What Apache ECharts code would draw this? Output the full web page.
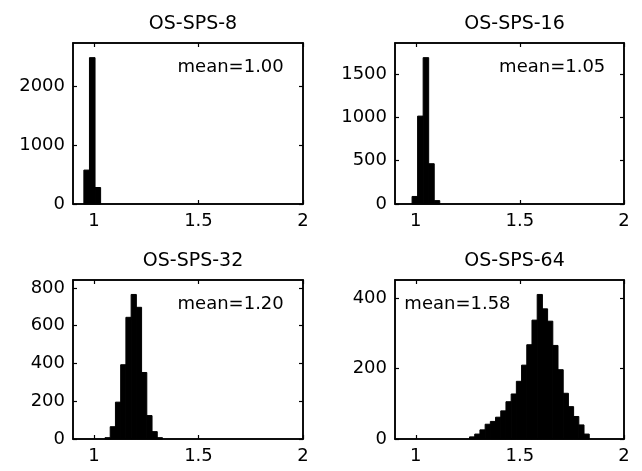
<!DOCTYPE html>
<html>
<head>
<meta charset="utf-8">
<script src="https://cdn.jsdelivr.net/npm/echarts@6/dist/echarts.min.js"></script>
<style>
html,body{margin:0;padding:0;background:#fff;}
#chart{width:642px;height:471px;}
</style>
</head>
<body>
<div id="chart"></div>
<script>
// ---- data ----
const titles = ['OS-SPS-8', 'OS-SPS-16', 'OS-SPS-32', 'OS-SPS-64'];
const meanLabels = ['mean=1.00', 'mean=1.05', 'mean=1.20', 'mean=1.58'];
const meanLabelX = [1.4, 1.4, 1.4, 0.945];
const xTicks = [1, 1.5, 2];
const yTicks8 = [0, 1000, 2000];
const yTicks16 = [0, 500, 1000, 1500];
const yTicks32 = [0, 200, 400, 600, 800];
const yTicks64 = [0, 200, 400];
const binStart = [0.952, 0.982, 1.053, 1.258];
const binWidth = [0.0267, 0.0266, 0.025, 0.025];
const counts8 = [576, 2486, 280];
const counts16 = [87, 1015, 1690, 465, 39];
const counts32 = [7, 65, 195, 393, 644, 765, 697, 352, 124, 39, 7];
const counts64 = [6, 14, 26, 42, 50, 62, 80, 106, 128, 164, 210, 268, 338, 411, 370, 335, 266, 197, 130, 92, 64, 40, 14];

const allCounts = [counts8, counts16, counts32, counts64];
const allYTicks = [yTicks8, yTicks16, yTicks32, yTicks64];
const xMin = 0.9, xMax = 2;

// ---- layout ----
const gridRects = [
  {left: 73, top: 43, width: 230, height: 161},
  {left: 395, top: 43, width: 229, height: 161},
  {left: 73, top: 280, width: 230, height: 159},
  {left: 395, top: 280, width: 229, height: 159}
];
const FONT = 'DejaVu Sans';
const black = '#000';

const grid = [], xAxis = [], yAxis = [], series = [], title = [];
const plain = v => String(v);

for (let i = 0; i < 4; i++) {
  const g = gridRects[i];
  grid.push(Object.assign({show: true, borderColor: black, borderWidth: 1.5, backgroundColor: 'transparent'}, g));
  const ymax = Math.max.apply(null, allCounts[i]) * 1.1;
  const tickStyle = {color: black, width: 1.2};
  const lblStyle = {color: black, fontSize: 18, fontFamily: FONT, margin: 8, formatter: plain};
  xAxis.push({
    gridIndex: i, type: 'value', min: xMin, max: xMax, position: 'bottom',
    axisLine: {show: true, onZero: false, lineStyle: {color: black, width: 1.5}},
    axisTick: {show: true, inside: true, length: 4, customValues: xTicks, lineStyle: tickStyle},
    axisLabel: Object.assign({customValues: xTicks}, lblStyle),
    splitLine: {show: false}
  });
  xAxis.push({
    gridIndex: i, type: 'value', min: xMin, max: xMax, position: 'top',
    axisLine: {show: true, onZero: false, lineStyle: {color: black, width: 1.5}},
    axisTick: {show: true, inside: true, length: 4, customValues: xTicks, lineStyle: tickStyle},
    axisLabel: {show: false},
    splitLine: {show: false}
  });
  yAxis.push({
    gridIndex: i, type: 'value', min: 0, max: ymax, position: 'left',
    axisLine: {show: true, onZero: false, lineStyle: {color: black, width: 1.5}},
    axisTick: {show: true, inside: true, length: 4, customValues: allYTicks[i], lineStyle: tickStyle},
    axisLabel: Object.assign({customValues: allYTicks[i]}, lblStyle),
    splitLine: {show: false}
  });
  yAxis.push({
    gridIndex: i, type: 'value', min: 0, max: ymax, position: 'right',
    axisLine: {show: true, onZero: false, lineStyle: {color: black, width: 1.5}},
    axisTick: {show: true, inside: true, length: 4, customValues: allYTicks[i], lineStyle: tickStyle},
    axisLabel: {show: false},
    splitLine: {show: false}
  });
  const s = binStart[i], w = binWidth[i];
  series.push({
    type: 'custom',
    xAxisIndex: 2 * i, yAxisIndex: 2 * i,
    data: allCounts[i].map((c, k) => [s + k * w, c, s + (k + 1) * w]),
    encode: {x: [0, 2], y: 1},
    renderItem: function (params, api) {
      const p0 = api.coord([api.value(0), api.value(1)]);
      const p1 = api.coord([api.value(2), 0]);
      return {
        type: 'rect',
        shape: {x: p0[0], y: p0[1], width: p1[0] - p0[0], height: p1[1] - p0[1]},
        style: {fill: black, stroke: black, lineWidth: 1}
      };
    },
    silent: true
  });
  const label = meanLabels[i];
  series.push({
    type: 'custom',
    xAxisIndex: 2 * i, yAxisIndex: 2 * i,
    data: [[meanLabelX[i], ymax * 0.85]],
    renderItem: function (params, api) {
      const p = api.coord([api.value(0), api.value(1)]);
      return {
        type: 'text',
        x: p[0], y: p[1],
        style: {text: label, fill: black, font: '18px "DejaVu Sans"', textAlign: 'left', textVerticalAlign: 'middle'}
      };
    },
    silent: true
  });
  title.push({
    text: titles[i],
    left: g.left + g.width / 2,
    top: g.top - 33,
    textAlign: 'center',
    textStyle: {color: black, fontSize: 19, fontWeight: 'normal', fontFamily: FONT}
  });
}

const chart = echarts.init(document.getElementById('chart'));
chart.setOption({
  backgroundColor: '#fff',
  animation: false,
  title: title,
  grid: grid,
  xAxis: xAxis,
  yAxis: yAxis,
  series: series
});
</script>
</body>
</html>
